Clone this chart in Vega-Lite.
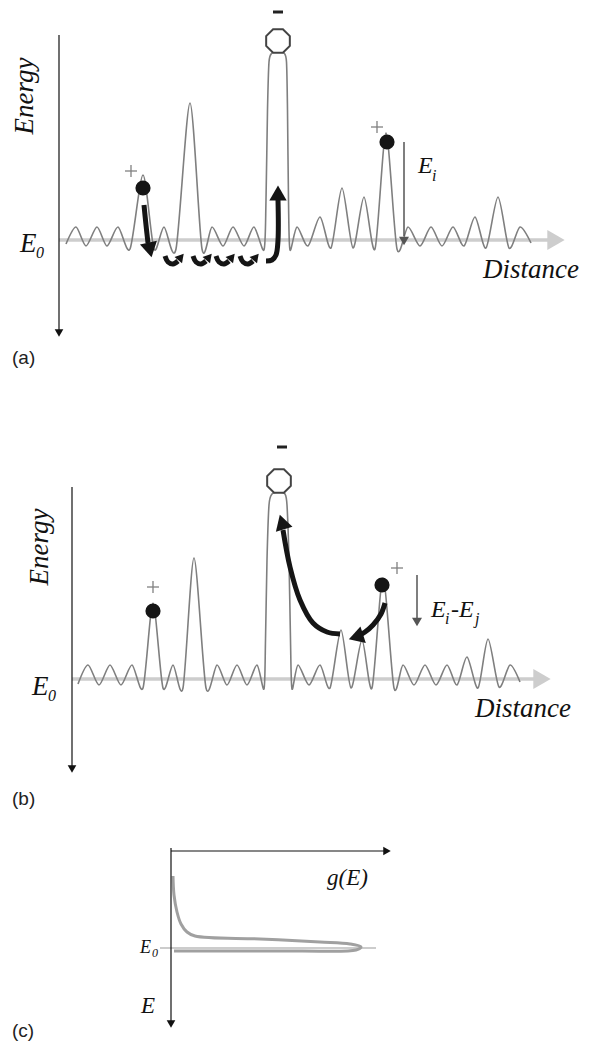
{
 "$schema": "https://vega.github.io/schema/vega-lite/v6.json",
 "width": 592, "height": 1042,
 "autosize": {"type": "fit", "contains": "padding"},
 "padding": 0,
 "background": "white",
 "config": {"view": {"stroke": null}},
 "encoding": {
  "x": {"field": "x", "type": "quantitative", "scale": {"domain": [0, 592], "nice": false, "zero": false}, "axis": null},
  "y": {"field": "y", "type": "quantitative", "scale": {"domain": [0, 1042], "reverse": true, "nice": false, "zero": false}, "axis": null}
 },
 "layer": [
  {"data": {"values": [{"x": 59, "y": 240, "x2": 548, "y2": 240}, {"x": 72, "y": 679, "x2": 535, "y2": 679}]},
   "mark": {"type": "rule", "color": "#cdcdcd", "strokeWidth": 3.5},
   "encoding": {"x2": {"field": "x2"}, "y2": {"field": "y2"}}},
  {"data": {"values": [{"x": 556, "y": 240, "a": 90}, {"x": 542, "y": 679, "a": 90}]},
   "mark": {"type": "point", "shape": "triangle-up", "filled": true, "color": "#cdcdcd", "opacity": 1, "size": 400},
   "encoding": {"angle": {"field": "a", "type": "quantitative", "scale": null}}},
  {"data": {"values": [{"x": 160, "y": 948, "x2": 376, "y2": 948}]},
   "mark": {"type": "rule", "color": "#999999", "strokeWidth": 1},
   "encoding": {"x2": {"field": "x2"}, "y2": {"field": "y2"}}},
  {"data": {"values": [
    {"i": 1, "x": 173, "y": 876}, {"i": 2, "x": 174, "y": 895}, {"i": 3, "x": 177, "y": 912}, {"i": 4, "x": 181, "y": 924},
    {"i": 5, "x": 187, "y": 932}, {"i": 6, "x": 195, "y": 936}, {"i": 7, "x": 260, "y": 939}, {"i": 8, "x": 320, "y": 942},
    {"i": 9, "x": 350, "y": 944}, {"i": 10, "x": 361, "y": 947}, {"i": 11, "x": 356, "y": 950}, {"i": 12, "x": 300, "y": 951},
    {"i": 13, "x": 240, "y": 951}, {"i": 14, "x": 174, "y": 951}]},
   "mark": {"type": "line", "color": "#a0a0a0", "strokeWidth": 3, "interpolate": "catmull-rom"},
   "encoding": {"order": {"field": "i", "type": "quantitative"}}},
  {"data": {"values": [
    {"p": "a", "x": 66, "y": 244}, {"p": "a", "x": 76, "y": 227}, {"p": "a", "x": 86, "y": 246}, {"p": "a", "x": 97, "y": 227},
    {"p": "a", "x": 107, "y": 246}, {"p": "a", "x": 118, "y": 227}, {"p": "a", "x": 130, "y": 249}, {"p": "a", "x": 143, "y": 175},
    {"p": "a", "x": 154, "y": 249}, {"p": "a", "x": 164, "y": 227}, {"p": "a", "x": 176, "y": 249}, {"p": "a", "x": 190, "y": 103},
    {"p": "a", "x": 202, "y": 249}, {"p": "a", "x": 212, "y": 227}, {"p": "a", "x": 223, "y": 246}, {"p": "a", "x": 233, "y": 227},
    {"p": "a", "x": 244, "y": 246}, {"p": "a", "x": 254, "y": 227}, {"p": "a", "x": 264, "y": 250}, {"p": "a", "x": 266, "y": 200},
    {"p": "a", "x": 267.5, "y": 110}, {"p": "a", "x": 269, "y": 62}, {"p": "a", "x": 272, "y": 53}, {"p": "a", "x": 278, "y": 51},
    {"p": "a", "x": 284, "y": 53}, {"p": "a", "x": 286.5, "y": 62}, {"p": "a", "x": 287.5, "y": 110}, {"p": "a", "x": 288.5, "y": 200},
    {"p": "a", "x": 290, "y": 250}, {"p": "a", "x": 297, "y": 227}, {"p": "a", "x": 308, "y": 246}, {"p": "a", "x": 320, "y": 217},
    {"p": "a", "x": 331, "y": 248}, {"p": "a", "x": 342, "y": 188}, {"p": "a", "x": 353, "y": 248}, {"p": "a", "x": 364, "y": 197},
    {"p": "a", "x": 375, "y": 249}, {"p": "a", "x": 386, "y": 133}, {"p": "a", "x": 397, "y": 249}, {"p": "a", "x": 408, "y": 227},
    {"p": "a", "x": 420, "y": 246}, {"p": "a", "x": 431, "y": 227}, {"p": "a", "x": 442, "y": 246}, {"p": "a", "x": 453, "y": 227},
    {"p": "a", "x": 464, "y": 246}, {"p": "a", "x": 475, "y": 217}, {"p": "a", "x": 486, "y": 248}, {"p": "a", "x": 498, "y": 197},
    {"p": "a", "x": 509, "y": 248}, {"p": "a", "x": 520, "y": 227}, {"p": "a", "x": 531, "y": 243},
    {"p": "b", "x": 78, "y": 684}, {"p": "b", "x": 88, "y": 665}, {"p": "b", "x": 99, "y": 685}, {"p": "b", "x": 110, "y": 665},
    {"p": "b", "x": 121, "y": 685}, {"p": "b", "x": 132, "y": 665}, {"p": "b", "x": 143, "y": 688}, {"p": "b", "x": 153, "y": 603},
    {"p": "b", "x": 163, "y": 688}, {"p": "b", "x": 173, "y": 665}, {"p": "b", "x": 183, "y": 688}, {"p": "b", "x": 194, "y": 558},
    {"p": "b", "x": 206, "y": 688}, {"p": "b", "x": 217, "y": 665}, {"p": "b", "x": 227, "y": 685}, {"p": "b", "x": 237, "y": 665},
    {"p": "b", "x": 247, "y": 685}, {"p": "b", "x": 257, "y": 665}, {"p": "b", "x": 264, "y": 689}, {"p": "b", "x": 265.5, "y": 640},
    {"p": "b", "x": 267, "y": 560}, {"p": "b", "x": 269, "y": 505}, {"p": "b", "x": 272, "y": 494}, {"p": "b", "x": 279, "y": 492},
    {"p": "b", "x": 285, "y": 494}, {"p": "b", "x": 287, "y": 505}, {"p": "b", "x": 289, "y": 560}, {"p": "b", "x": 290.5, "y": 640},
    {"p": "b", "x": 292, "y": 689}, {"p": "b", "x": 298, "y": 665}, {"p": "b", "x": 309, "y": 685}, {"p": "b", "x": 320, "y": 665},
    {"p": "b", "x": 330, "y": 688}, {"p": "b", "x": 341, "y": 630}, {"p": "b", "x": 351, "y": 688}, {"p": "b", "x": 362, "y": 640},
    {"p": "b", "x": 372, "y": 688}, {"p": "b", "x": 383, "y": 578}, {"p": "b", "x": 394, "y": 688}, {"p": "b", "x": 403, "y": 665},
    {"p": "b", "x": 414, "y": 685}, {"p": "b", "x": 425, "y": 665}, {"p": "b", "x": 436, "y": 685}, {"p": "b", "x": 447, "y": 665},
    {"p": "b", "x": 457, "y": 685}, {"p": "b", "x": 467, "y": 657}, {"p": "b", "x": 478, "y": 688}, {"p": "b", "x": 488, "y": 639},
    {"p": "b", "x": 499, "y": 687}, {"p": "b", "x": 510, "y": 665}, {"p": "b", "x": 520, "y": 682}]},
   "mark": {"type": "line", "color": "#7f7f7f", "strokeWidth": 1.6, "interpolate": "cardinal", "tension": 0.2},
   "encoding": {"detail": {"field": "p"}}},
  {"data": {"values": [{"x": 278, "y": 41}, {"x": 279, "y": 481}]},
   "mark": {"type": "point", "shape": "M-0.414,-1L0.414,-1L1,-0.414L1,0.414L0.414,1L-0.414,1L-1,0.414L-1,-0.414Z", "filled": false, "fill": "white", "fillOpacity": 1, "stroke": "#444444", "strokeWidth": 2, "opacity": 1, "size": 560}},
  {"data": {"values": [
    {"x": 59, "y": 35, "x2": 59, "y2": 330}, {"x": 72, "y": 487, "x2": 72, "y2": 766},
    {"x": 171, "y": 848, "x2": 171, "y2": 1021}, {"x": 171, "y": 851, "x2": 384, "y2": 851}]},
   "mark": {"type": "rule", "color": "#111111", "strokeWidth": 1.2},
   "encoding": {"x2": {"field": "x2"}, "y2": {"field": "y2"}}},
  {"data": {"values": [{"x": 59, "y": 333, "a": 180}, {"x": 72, "y": 769, "a": 180}, {"x": 171, "y": 1024, "a": 180}, {"x": 387, "y": 851, "a": 90}]},
   "mark": {"type": "point", "shape": "triangle-up", "filled": true, "color": "#111111", "opacity": 1, "size": 75},
   "encoding": {"angle": {"field": "a", "type": "quantitative", "scale": null}}},
  {"data": {"values": [{"x": 404, "y": 142, "x2": 404, "y2": 236}, {"x": 417, "y": 575, "x2": 417, "y2": 618}]},
   "mark": {"type": "rule", "color": "#555555", "strokeWidth": 1.5},
   "encoding": {"x2": {"field": "x2"}, "y2": {"field": "y2"}}},
  {"data": {"values": [{"x": 404, "y": 241, "a": 180}, {"x": 417, "y": 622, "a": 180}]},
   "mark": {"type": "point", "shape": "triangle-up", "filled": true, "color": "#555555", "opacity": 1, "size": 100},
   "encoding": {"angle": {"field": "a", "type": "quantitative", "scale": null}}},
  {"data": {"values": [
    {"x": 125, "y": 171, "x2": 137, "y2": 171}, {"x": 131, "y": 165, "x2": 131, "y2": 177},
    {"x": 371, "y": 127, "x2": 383, "y2": 127}, {"x": 377, "y": 121, "x2": 377, "y2": 133},
    {"x": 147, "y": 587, "x2": 159, "y2": 587}, {"x": 153, "y": 581, "x2": 153, "y2": 593},
    {"x": 391, "y": 568, "x2": 403, "y2": 568}, {"x": 397, "y": 562, "x2": 397, "y2": 574}]},
   "mark": {"type": "rule", "color": "#808080", "strokeWidth": 1.3},
   "encoding": {"x2": {"field": "x2"}, "y2": {"field": "y2"}}},
  {"data": {"values": [{"x": 273, "y": 12, "x2": 283, "y2": 12}, {"x": 277, "y": 447, "x2": 287, "y2": 447}]},
   "mark": {"type": "rule", "color": "#222222", "strokeWidth": 3},
   "encoding": {"x2": {"field": "x2"}, "y2": {"field": "y2"}}},
  {"data": {"values": [
    {"id": "a1", "i": 1, "x": 144, "y": 205}, {"id": "a1", "i": 2, "x": 146, "y": 225}, {"id": "a1", "i": 3, "x": 148, "y": 243},
    {"id": "aJ", "i": 1, "x": 266, "y": 261}, {"id": "aJ", "i": 2, "x": 272, "y": 260}, {"id": "aJ", "i": 3, "x": 276, "y": 255}, {"id": "aJ", "i": 4, "x": 278, "y": 240}, {"id": "aJ", "i": 5, "x": 278, "y": 200},
    {"id": "u1", "i": 1, "x": 165, "y": 256}, {"id": "u1", "i": 2, "x": 168, "y": 262}, {"id": "u1", "i": 3, "x": 173, "y": 264}, {"id": "u1", "i": 4, "x": 178, "y": 261},
    {"id": "u2", "i": 1, "x": 193, "y": 256}, {"id": "u2", "i": 2, "x": 196, "y": 262}, {"id": "u2", "i": 3, "x": 201, "y": 264}, {"id": "u2", "i": 4, "x": 206, "y": 261},
    {"id": "u3", "i": 1, "x": 216, "y": 256}, {"id": "u3", "i": 2, "x": 219, "y": 262}, {"id": "u3", "i": 3, "x": 224, "y": 264}, {"id": "u3", "i": 4, "x": 229, "y": 261},
    {"id": "u4", "i": 1, "x": 240, "y": 256}, {"id": "u4", "i": 2, "x": 243, "y": 262}, {"id": "u4", "i": 3, "x": 248, "y": 264}, {"id": "u4", "i": 4, "x": 253, "y": 261},
    {"id": "b1", "i": 1, "x": 283, "y": 530}, {"id": "b1", "i": 2, "x": 290, "y": 567}, {"id": "b1", "i": 3, "x": 300, "y": 600}, {"id": "b1", "i": 4, "x": 313, "y": 623}, {"id": "b1", "i": 5, "x": 327, "y": 632}, {"id": "b1", "i": 6, "x": 340, "y": 634},
    {"id": "b2", "i": 1, "x": 385, "y": 603}, {"id": "b2", "i": 2, "x": 381, "y": 614}, {"id": "b2", "i": 3, "x": 373, "y": 625}, {"id": "b2", "i": 4, "x": 365, "y": 632}, {"id": "b2", "i": 5, "x": 358, "y": 636}]},
   "mark": {"type": "line", "color": "#151515", "strokeWidth": 5, "interpolate": "catmull-rom"},
   "encoding": {"detail": {"field": "id"}, "order": {"field": "i", "type": "quantitative"}}},
  {"data": {"values": [{"x": 150, "y": 250, "a": 168}, {"x": 278, "y": 193, "a": 0}, {"x": 282, "y": 522, "a": 343}, {"x": 356, "y": 637, "a": 252}]},
   "mark": {"type": "point", "shape": "triangle-up", "filled": true, "color": "#151515", "opacity": 1, "size": 300},
   "encoding": {"angle": {"field": "a", "type": "quantitative", "scale": null}}},
  {"data": {"values": [{"x": 181, "y": 257, "a": 40}, {"x": 209, "y": 257, "a": 40}, {"x": 232, "y": 257, "a": 40}, {"x": 256, "y": 257, "a": 40}]},
   "mark": {"type": "point", "shape": "triangle-up", "filled": true, "color": "#151515", "opacity": 1, "size": 95},
   "encoding": {"angle": {"field": "a", "type": "quantitative", "scale": null}}},
  {"data": {"values": [{"x": 143, "y": 188}, {"x": 387, "y": 142}, {"x": 153, "y": 611}, {"x": 382, "y": 585}]},
   "mark": {"type": "point", "shape": "circle", "filled": true, "color": "#151515", "opacity": 1, "size": 230}},
  {"data": {"values": [{"x": 33, "y": 96, "t": "Energy"}, {"x": 48, "y": 547, "t": "Energy"}]},
   "mark": {"type": "text", "font": "Liberation Serif, Times New Roman, serif", "fontStyle": "italic", "fontSize": 27, "angle": 270, "align": "center", "baseline": "alphabetic", "color": "#111111"},
   "encoding": {"text": {"field": "t"}}},
  {"data": {"values": [{"x": 20, "y": 252, "t": "E"}, {"x": 32, "y": 695, "t": "E"}, {"x": 483, "y": 278, "t": "Distance"}, {"x": 475, "y": 717, "t": "Distance"}]},
   "mark": {"type": "text", "font": "Liberation Serif, Times New Roman, serif", "fontStyle": "italic", "fontSize": 27, "align": "left", "baseline": "alphabetic", "color": "#111111"},
   "encoding": {"text": {"field": "t"}}},
  {"data": {"values": [{"x": 418, "y": 173, "t": "E"}, {"x": 431, "y": 617, "t": "E"}, {"x": 451, "y": 617, "t": "-E"}]},
   "mark": {"type": "text", "font": "Liberation Serif, Times New Roman, serif", "fontStyle": "italic", "fontSize": 24, "align": "left", "baseline": "alphabetic", "color": "#111111"},
   "encoding": {"text": {"field": "t"}}},
  {"data": {"values": [{"x": 36, "y": 258, "t": "0"}, {"x": 48, "y": 701, "t": "0"}, {"x": 432, "y": 181, "t": "i"}, {"x": 445, "y": 624, "t": "i"}, {"x": 475, "y": 624, "t": "j"}]},
   "mark": {"type": "text", "font": "Liberation Serif, Times New Roman, serif", "fontStyle": "italic", "fontSize": 16, "align": "left", "baseline": "alphabetic", "color": "#111111"},
   "encoding": {"text": {"field": "t"}}},
  {"data": {"values": [{"x": 327, "y": 885, "t": "g(E)"}, {"x": 141, "y": 1013, "t": "E"}]},
   "mark": {"type": "text", "font": "Liberation Serif, Times New Roman, serif", "fontStyle": "italic", "fontSize": 23, "align": "left", "baseline": "alphabetic", "color": "#111111"},
   "encoding": {"text": {"field": "t"}}},
  {"data": {"values": [{"x": 140, "y": 953, "t": "E"}]},
   "mark": {"type": "text", "font": "Liberation Serif, Times New Roman, serif", "fontStyle": "italic", "fontSize": 18, "align": "left", "baseline": "alphabetic", "color": "#111111"},
   "encoding": {"text": {"field": "t"}}},
  {"data": {"values": [{"x": 152, "y": 957, "t": "0"}]},
   "mark": {"type": "text", "font": "Liberation Serif, Times New Roman, serif", "fontStyle": "italic", "fontSize": 12, "align": "left", "baseline": "alphabetic", "color": "#111111"},
   "encoding": {"text": {"field": "t"}}},
  {"data": {"values": [{"x": 12, "y": 364, "t": "(a)"}, {"x": 12, "y": 805, "t": "(b)"}, {"x": 12, "y": 1037, "t": "(c)"}]},
   "mark": {"type": "text", "font": "Liberation Sans, Arial, sans-serif", "fontSize": 19, "align": "left", "baseline": "alphabetic", "color": "#222222"},
   "encoding": {"text": {"field": "t"}}}
 ]
}
